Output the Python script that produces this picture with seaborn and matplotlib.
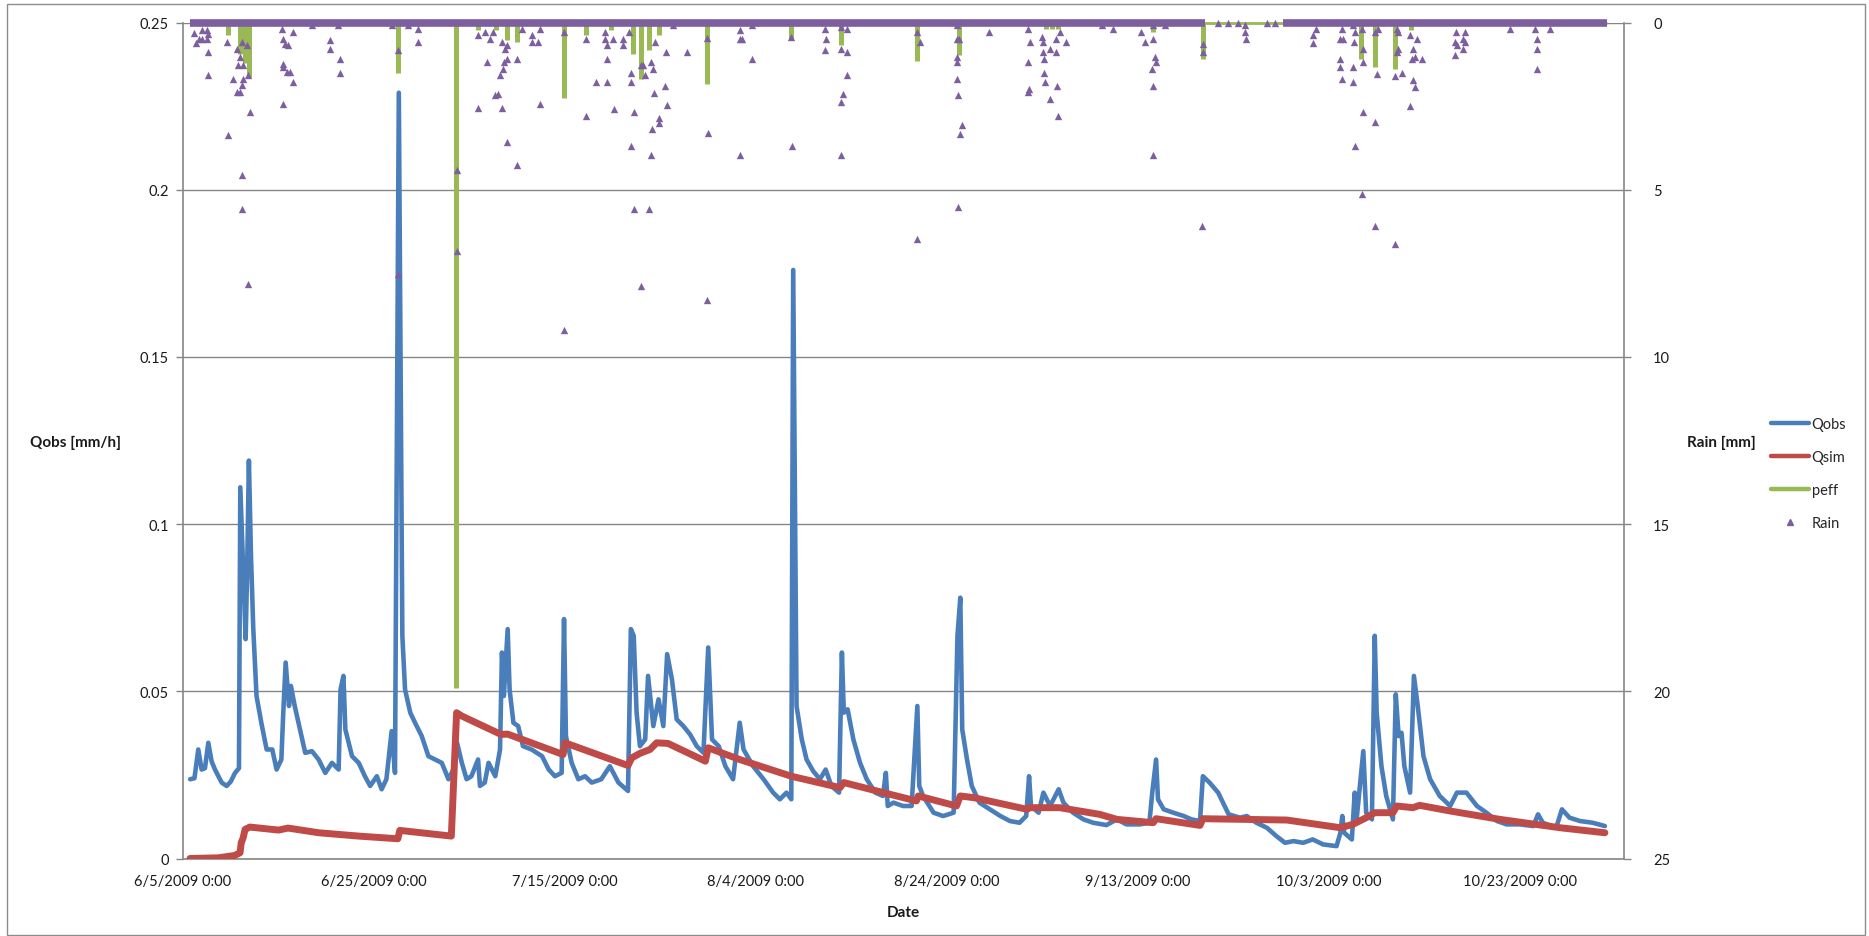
import numpy as np
import pandas as pd
import matplotlib
matplotlib.use("Agg")
import matplotlib.pyplot as plt
from matplotlib.lines import Line2D
from matplotlib.patches import Rectangle
import seaborn as sns

START = "2009-06-05"   # time axis: days since 6/5/2009 0:00

# ---------------- data ----------------
qobs_day = [0.75, 1.2, 1.6, 1.95, 2.3, 2.65, 3.0, 3.35, 4.05, 4.57, 5.0, 5.45, 5.86, 6.0, 6.3, 6.56, 6.72, 6.9, 7.12, 7.36,
            7.7, 8.2, 8.76, 9.35, 9.8, 10.3, 10.5, 10.75, 11.1, 11.3, 11.7, 12.25, 12.8, 13.5, 14.2, 14.9, 15.6, 16.3, 16.5, 16.8,
            17.0, 17.7, 18.4, 19.05, 19.6, 20.3, 20.8, 21.3, 21.85, 22.2, 22.6, 22.97, 23.25, 23.8, 24.3, 25.0, 25.7, 26.4, 27.1, 27.8,
            28.3, 28.7, 29.2, 29.7, 30.2, 30.9, 31.1, 31.6, 32.0, 32.7, 33.2, 33.4, 33.6, 34.0, 34.2, 34.6, 35.1, 35.6, 36.5, 37.6,
            38.3, 38.95, 39.65, 39.9, 40.1, 40.7, 41.4, 42.1, 42.8, 43.8, 44.7, 45.6, 46.6, 46.9, 47.2, 47.5, 47.85, 48.4, 48.7, 49.25,
            49.8, 50.3, 50.7, 51.2, 51.7, 52.4, 53.1, 53.8, 54.5, 55.0, 55.4, 56.1, 56.8, 57.6, 58.3, 58.7, 59.7, 60.8, 61.8, 62.5,
            63.2, 63.7, 63.9, 64.25, 64.8, 65.3, 66.0, 66.7, 67.3, 67.9, 68.7, 69.0, 69.2, 69.6, 70.2, 70.9, 71.6, 72.5, 73.3, 73.6,
            73.8, 74.4, 75.4, 76.3, 76.9, 77.1, 77.5, 78.6, 79.6, 80.7, 81.1, 81.4, 81.6, 82.1, 82.6, 83.4, 84.5, 85.6, 86.6, 87.6,
            88.3, 88.6, 88.8, 89.6, 90.1, 90.8, 91.7, 92.2, 93.2, 94.3, 95.3, 96.7, 97.8, 98.8, 100.2, 101.2, 101.5, 101.9, 102.1, 102.7,
            103.7, 104.8, 105.6, 106.5, 106.8, 107.5, 108.4, 109.5, 110.7, 111.4, 112.4, 113.5, 114.5, 115.4, 116.3, 117.3, 118.3, 119.4, 120.8, 121.2,
            121.4, 121.6, 122.4, 122.7, 122.9, 123.6, 123.9, 124.5, 124.8, 125.0, 125.5, 126.0, 126.7, 127.0, 127.3, 127.6, 127.9, 128.5, 128.9, 129.3,
            129.9, 130.6, 131.6, 132.7, 133.4, 134.4, 135.5, 136.5, 137.6, 138.6, 140.0, 141.4, 141.9, 142.4, 143.8, 144.4, 145.2, 146.3, 147.6, 148.9]
qobs_val = [0.0237, 0.0240, 0.0326, 0.0266, 0.0270, 0.0346, 0.0290, 0.0266, 0.0227, 0.0217, 0.0230, 0.0256, 0.0270, 0.1110, 0.0865, 0.0656, 0.0865, 0.1190, 0.0905, 0.0686,
            0.0486, 0.0406, 0.0326, 0.0326, 0.0266, 0.0296, 0.0436, 0.0586, 0.0456, 0.0516, 0.0456, 0.0386, 0.0316, 0.0321, 0.0296, 0.0256, 0.0286, 0.0266, 0.0506, 0.0546,
            0.0386, 0.0306, 0.0286, 0.0246, 0.0217, 0.0246, 0.0207, 0.0237, 0.0381, 0.0256, 0.2290, 0.0666, 0.0506, 0.0436, 0.0406, 0.0366, 0.0306, 0.0296, 0.0286, 0.0237,
            0.0266, 0.0346, 0.0286, 0.0237, 0.0246, 0.0296, 0.0217, 0.0227, 0.0286, 0.0246, 0.0326, 0.0616, 0.0486, 0.0686, 0.0506, 0.0406, 0.0396, 0.0336, 0.0326, 0.0306,
            0.0266, 0.0246, 0.0256, 0.0716, 0.0366, 0.0286, 0.0237, 0.0246, 0.0227, 0.0237, 0.0276, 0.0227, 0.0202, 0.0686, 0.0666, 0.0436, 0.0336, 0.0356, 0.0546, 0.0396,
            0.0476, 0.0396, 0.0611, 0.0536, 0.0416, 0.0396, 0.0371, 0.0336, 0.0316, 0.0631, 0.0356, 0.0336, 0.0276, 0.0237, 0.0406, 0.0326, 0.0276, 0.0237, 0.0197, 0.0177,
            0.0197, 0.0177, 0.1760, 0.0456, 0.0356, 0.0296, 0.0261, 0.0237, 0.0266, 0.0217, 0.0197, 0.0616, 0.0436, 0.0446, 0.0356, 0.0286, 0.0237, 0.0197, 0.0187, 0.0256,
            0.0157, 0.0167, 0.0157, 0.0157, 0.0456, 0.0217, 0.0187, 0.0137, 0.0127, 0.0137, 0.0666, 0.0780, 0.0386, 0.0296, 0.0217, 0.0167, 0.0147, 0.0127, 0.0112, 0.0107,
            0.0127, 0.0246, 0.0157, 0.0137, 0.0197, 0.0157, 0.0207, 0.0167, 0.0137, 0.0117, 0.0107, 0.0100, 0.0117, 0.0102, 0.0102, 0.0107, 0.0197, 0.0296, 0.0177, 0.0147,
            0.0137, 0.0127, 0.0117, 0.0112, 0.0246, 0.0227, 0.0197, 0.0132, 0.0122, 0.0127, 0.0107, 0.0092, 0.0067, 0.0047, 0.0052, 0.0047, 0.0057, 0.0042, 0.0037, 0.0077,
            0.0127, 0.0077, 0.0057, 0.0197, 0.0117, 0.0321, 0.0137, 0.0117, 0.0666, 0.0436, 0.0276, 0.0187, 0.0117, 0.0491, 0.0366, 0.0376, 0.0276, 0.0197, 0.0546, 0.0456,
            0.0306, 0.0237, 0.0187, 0.0157, 0.0197, 0.0197, 0.0157, 0.0137, 0.0112, 0.0102, 0.0102, 0.0097, 0.0132, 0.0107, 0.0092, 0.0147, 0.0122, 0.0112, 0.0107, 0.0097]

qsim_day = [0.73, 3.7, 5.4, 5.97, 6.1, 6.3, 6.5, 7.0, 10.0, 11.0, 14.2, 18.4, 22.5, 22.7, 28.1, 28.65, 29.2, 33.3, 34.0, 39.8,
            40.0, 46.6, 47.0, 47.9, 48.9, 49.6, 50.8, 54.7, 55.0, 58.3, 63.7, 68.8, 69.2, 76.8, 77.0, 81.0, 81.4, 82.8, 88.4, 88.6,
            91.8, 96.0, 97.8, 101.6, 101.9, 106.5, 106.8, 115.6, 121.2, 122.5, 123.9, 124.8, 126.7, 127.1, 128.8, 129.5, 132.7, 137.9, 144.2, 148.9]
qsim_val = [0.0000, 0.0002, 0.0009, 0.0017, 0.0047, 0.0062, 0.0087, 0.0094, 0.0085, 0.0091, 0.0077, 0.0067, 0.0059, 0.0084, 0.0067, 0.0436, 0.0426, 0.0371, 0.0372, 0.0311,
            0.0346, 0.0278, 0.0301, 0.0315, 0.0326, 0.0346, 0.0344, 0.0291, 0.0331, 0.0296, 0.0246, 0.0212, 0.0227, 0.0172, 0.0187, 0.0157, 0.0187, 0.0182, 0.0147, 0.0152,
            0.0152, 0.0132, 0.0117, 0.0107, 0.0119, 0.0099, 0.0119, 0.0115, 0.0092, 0.0102, 0.0122, 0.0137, 0.0137, 0.0157, 0.0152, 0.0159, 0.0142, 0.0117, 0.0092, 0.0077]

peff_day = [4.75, 5.97, 6.5, 6.95, 22.5, 28.6, 30.9, 32.8, 33.9, 35.0, 39.9, 42.2, 44.8, 47.1, 48.0, 48.8, 49.8, 54.9, 63.7, 68.9,
            76.9, 81.3, 90.4, 91.0, 91.6, 101.6, 106.8, 123.4, 124.8, 126.9, 128.6]
peff_mm = [0.38, 0.93, 1.2, 1.63, 1.5, 19.9, 0.23, 0.23, 0.53, 0.58, 2.26, 0.38, 0.23, 0.93, 1.68, 0.83, 0.38, 1.83, 0.53, 0.68,
           1.16, 0.98, 0.2, 0.2, 0.2, 0.28, 1.08, 1.08, 1.33, 1.38, 0.23]

rain_day = [1.2, 1.4, 1.7, 1.95, 2.48, 2.65, 2.55, 1.95, 2.65, 2.65, 4.57, 4.75, 5.27, 5.62, 5.79, 5.62, 5.97, 6.14, 5.97, 6.14,
            6.32, 6.32, 6.67, 6.84, 7.02, 6.14, 6.14, 6.84, 10.33, 10.5, 10.68, 10.44, 10.5, 10.86, 11.2, 11.55, 10.5, 11.03, 11.55, 15.39,
            15.39, 16.44, 16.44, 13.47, 16.27, 21.85, 22.55, 22.55, 23.6, 24.64, 24.64, 28.66, 28.66, 30.9, 30.9, 31.8, 31.6, 32.15, 32.5, 33.37,
            33.37, 33.5, 33.6, 33.7, 33.9, 33.9, 32.67, 33.0, 33.2, 33.9, 34.94, 34.94, 35.5, 36.5, 36.5, 37.2, 37.4, 37.4,
            39.9, 39.9, 42.17, 42.17, 43.2, 44.45, 44.24, 44.24, 44.45, 44.45, 45.07, 45.15, 46.1, 46.1, 46.72, 46.93, 46.93, 46.93, 47.22, 47.22,
            47.97, 47.97, 48.17, 48.38, 48.79, 49.0, 49.0, 49.08, 49.21, 49.29, 49.41, 49.83, 49.83, 50.45, 50.57, 50.66, 51.28, 52.73, 54.88, 55.0,
            54.88, 58.31, 58.31, 58.52, 58.31, 59.55, 59.55, 63.69, 63.78, 67.21, 67.3, 67.21, 68.87, 68.87, 69.08, 68.87, 68.95, 69.49, 69.57, 69.49,
            76.86, 77.15, 76.86, 81.08, 81.08, 81.29, 81.08, 81.08, 81.08, 81.2, 81.2, 81.62, 81.37, 84.39, 88.53, 88.73, 88.53, 88.53, 88.61, 89.98,
            90.06, 90.06, 90.18, 90.18, 90.31, 90.8, 90.8, 91.42, 91.42, 91.55, 91.63, 92.46, 91.84, 96.27, 97.43, 100.33, 100.74,
            101.61, 101.61, 101.78, 101.89, 101.43, 101.54, 101.61, 102.83, 106.67, 106.84, 106.84, 108.42, 109.46, 110.51, 111.21, 111.21, 111.31, 113.48, 114.35, 118.64,
            118.36, 118.36, 121.33, 121.16, 121.5, 121.16, 121.16, 121.33, 122.55, 122.73, 122.62, 122.48, 122.48, 122.73, 123.42, 123.6, 123.6, 123.6, 123.42, 124.82,
            125.0, 124.82, 124.82, 125.17, 127.09, 127.26, 127.26, 127.09, 126.91, 127.61, 126.91, 128.48, 128.83, 128.66, 129.01, 129.71, 128.83, 129.01, 128.48, 129.18,
            133.3, 133.2, 133.2, 134.07, 134.24, 134.07, 133.37, 134.24, 138.96, 141.75, 141.82, 141.75, 143.14, 141.57]
rain_mm = [0.3, 0.6, 0.5, 0.23, 0.23, 0.33, 0.48, 0.48, 0.88, 1.58, 0.58, 3.37, 1.68, 0.78, 1.28, 2.08, 2.08, 1.88, 1.03, 0.58,
           1.28, 1.68, 0.68, 1.58, 2.67, 4.57, 5.57, 7.81, 0.18, 0.48, 0.63, 1.23, 1.33, 1.48, 1.48, 1.78, 2.43, 0.68, 0.28, 0.53,
           0.78, 1.08, 1.5, 0.08, 0.08, 0.08, 0.83, 7.51, 0.08, 0.18, 0.58, 4.42, 6.82, 0.38, 2.57, 1.18, 0.28, 0.48, 0.28, 0.58,
           2.57, 1.38, 1.18, 0.78, 1.08, 0.68, 2.18, 2.13, 1.58, 3.57, 4.27, 1.08, 0.18, 0.38, 0.58, 0.58, 0.18, 2.43,
           0.28, 9.21, 0.48, 2.79, 1.78, 1.78, 0.28, 0.48, 0.68, 1.08, 0.48, 2.6, 0.48, 0.68, 0.28, 1.78, 1.5, 3.7, 2.67, 5.57,
           1.28, 7.89, 1.28, 1.58, 5.57, 1.18, 3.97, 3.19, 1.38, 2.1, 0.58, 2.87, 3.02, 1.9, 0.88, 2.48, 0.08, 0.88, 8.29, 3.29,
           0.46, 0.23, 0.48, 0.48, 3.97, 1.08, 0.08, 0.43, 3.7, 0.18, 0.48, 0.83, 0.13, 0.78, 2.13, 2.38, 3.97, 0.88, 1.58, 0.18,
           0.28, 0.58, 6.47, 0.08, 0.48, 0.48, 1.03, 1.18, 1.7, 2.18, 5.52, 3.07, 3.32, 0.28, 0.18, 0.58, 1.18, 2.08, 1.98, 0.43,
           0.58, 0.88, 1.08, 1.5, 1.78, 0.78, 2.28, 0.48, 0.88, 1.9, 2.8, 0.58, 0.28, 0.08, 0.18, 0.28, 0.58,
           0.08, 0.48, 1.03, 1.18, 1.38, 1.9, 3.97, 0.08, 6.1, 0.63, 0.88, 0.0, 0.0, 0.0, 0.08, 0.28, 0.48, 0.0, 0.0, 0.18,
           0.38, 0.6, 0.18, 0.48, 0.48, 1.08, 1.33, 1.7, 0.08, 0.28, 0.58, 1.33, 1.78, 3.7, 0.18, 0.78, 1.18, 2.69, 5.12, 0.28,
           1.53, 2.99, 6.1, 0.18, 0.18, 0.28, 0.78, 0.88, 1.6, 1.5, 6.62, 0.38, 0.78, 1.08, 1.03, 1.08, 1.73, 1.93, 2.5, 0.48,
           0.28, 0.58, 0.98, 0.48, 0.28, 0.8, 0.68, 0.58, 0.18, 0.48, 0.78, 1.4, 0.18, 0.18]

# periods with hourly zero-rain records (dense marker band at 0 mm)
rain_zero_from = [0.75, 115.2]
rain_zero_to = [107.0, 149.1]
peff_zero_from = [0.75]
peff_zero_to = [149.1]

xtick_day = [0, 20, 40, 60, 80, 100, 120, 140]
xtick_labels = ["6/5/2009 0:00", "6/25/2009 0:00", "7/15/2009 0:00", "8/4/2009 0:00",
                "8/24/2009 0:00", "9/13/2009 0:00", "10/3/2009 0:00", "10/23/2009 0:00"]
x_end_day = 150.9
q_ticks = [0, 0.05, 0.1, 0.15, 0.2, 0.25]
q_tick_labels = ["0", "0.05", "0.1", "0.15", "0.2", "0.25"]
rain_ticks = [0, 5, 10, 15, 20, 25]

assert len(qobs_day) == len(qobs_val)
assert len(qsim_day) == len(qsim_val)
assert len(peff_day) == len(peff_mm)
assert len(rain_day) == len(rain_mm)

BLUE = "#4A7EBB"
RED = "#BE4B48"
GREEN = "#98B954"
PURPLE = "#7D5FA0"
AXC = "#868686"

base = pd.Timestamp(START)


def to_dt(days):
    return base + pd.to_timedelta(np.asarray(days, dtype=float), unit="D")


sns.set_style("white")
plt.rcParams["font.family"] = ["Lato", "DejaVu Sans"]

W, H = 1869, 937
fig = plt.figure(figsize=(W / 100, H / 100), dpi=100)
ax_top, ax_bot, ax_l, ax_r = 23.5, 859.5, 183, 1624
ax = fig.add_axes([ax_l / W, 1 - ax_bot / H, (ax_r - ax_l) / W, (ax_bot - ax_top) / H])
ax2 = ax.twinx()

qobs_df = pd.DataFrame({"t": to_dt(qobs_day), "q": qobs_val})
qsim_df = pd.DataFrame({"t": to_dt(qsim_day), "q": qsim_val})
rain_df = pd.DataFrame({"t": to_dt(rain_day), "mm": rain_mm})

sns.lineplot(data=qobs_df, x="t", y="q", ax=ax, color=BLUE, linewidth=3.3,
             estimator=None, sort=False, zorder=3)
sns.lineplot(data=qsim_df, x="t", y="q", ax=ax, color=RED, linewidth=5.0,
             estimator=None, sort=False, zorder=4)

# secondary (reversed) rain axis
ax2.hlines([0] * len(peff_zero_from), to_dt(peff_zero_from), to_dt(peff_zero_to),
           color=GREEN, linewidth=2.0, zorder=2, clip_on=False)
ax2.vlines(to_dt(peff_day), 0, peff_mm, color=GREEN, linewidth=3.6, zorder=3)
ax2.hlines([0] * len(rain_zero_from), to_dt(rain_zero_from), to_dt(rain_zero_to),
           color=PURPLE, linewidth=5.5, zorder=4, clip_on=False)
sns.scatterplot(data=rain_df, x="t", y="mm", ax=ax2, marker="^", s=28, color=PURPLE,
                linewidth=0, legend=False, zorder=5, clip_on=False)

# axes scales & ticks
ax.set_xlim(base, base + pd.Timedelta(days=x_end_day))
ax.set_ylim(0, 0.25)
ax2.set_ylim(25, 0)
ax.set_xticks(list(to_dt(xtick_day)))
ax.set_xticklabels(xtick_labels)
ax.set_yticks(q_ticks)
ax.set_yticklabels(q_tick_labels)
ax2.set_yticks(rain_ticks)
ax2.set_yticklabels([str(v) for v in rain_ticks])

ax.grid(axis="y", color=AXC, linewidth=1.0, zorder=0)
ax.grid(axis="x", visible=False)
ax.set_axisbelow(True)

for a in (ax, ax2):
    for s in a.spines.values():
        s.set_visible(False)
ax.spines["left"].set_visible(True)
ax.spines["bottom"].set_visible(True)
ax2.spines["right"].set_visible(True)
for s in (ax.spines["left"], ax.spines["bottom"], ax2.spines["right"]):
    s.set_color(AXC)
    s.set_linewidth(1.2)

tick_kw = dict(direction="out", length=5, width=1, color=AXC, labelcolor="#1a1a1a", labelsize=10.5)
ax.tick_params(axis="x", pad=6, **tick_kw)
ax.tick_params(axis="y", left=True, pad=5, **tick_kw)
ax2.tick_params(axis="y", right=True, pad=16, **tick_kw)

ax.set_xlabel("Date", fontsize=11, fontweight="bold", color="#1a1a1a")
ax.xaxis.set_label_coords(0.5, (ax_bot - 906) / (ax_bot - ax_top))
ax.set_ylabel("Qobs [mm/h]", fontsize=11, fontweight="bold", color="#1a1a1a", rotation=0,
              ha="center", va="center")
ax.yaxis.set_label_coords((76 - ax_l) / (ax_r - ax_l), (ax_bot - 443) / (ax_bot - ax_top))
ax2.set_ylabel("Rain [mm]", fontsize=11, fontweight="bold", color="#1a1a1a", rotation=0,
               ha="center", va="center")
ax2.yaxis.set_label_coords((1721 - ax_l) / (ax_r - ax_l), (ax_bot - 443) / (ax_bot - ax_top))

handles = [Line2D([], [], color=BLUE, linewidth=3.2),
           Line2D([], [], color=RED, linewidth=3.2),
           Line2D([], [], color=GREEN, linewidth=3.2),
           Line2D([], [], color=PURPLE, linestyle="none", marker="^", markersize=4)]
fig.legend(handles, ["Qobs", "Qsim", "peff", "Rain"], loc="upper left",
           bbox_to_anchor=(1765 / W, 1 - 412 / H), frameon=False, fontsize=10.5,
           handlelength=2.6, handletextpad=0.2, labelspacing=1.3, borderaxespad=0)

# chart-area border
fig.add_artist(Rectangle((7 / W, 1 / H), (1865 - 7) / W, (936 - 5) / H, transform=fig.transFigure,
                         fill=False, edgecolor="#8c8c8c", linewidth=1.0))

fig.savefig("out.png", dpi=100)
